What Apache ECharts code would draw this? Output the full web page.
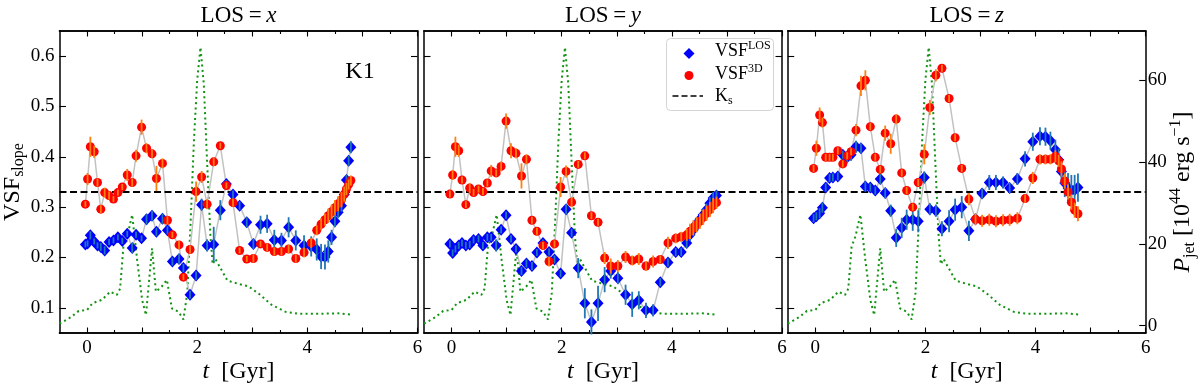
<!DOCTYPE html>
<html>
<head>
<meta charset="utf-8">
<script src="https://cdn.jsdelivr.net/npm/echarts@6/dist/echarts.min.js"></script>
<style>
  html, body { margin: 0; padding: 0; background: #fff; }
  #main { width: 1200px; height: 386px; }
</style>
</head>
<body>
<div id="main"></div>
<script>
// ---- data ----
// K_s reference slope
var KS = 1 / 3;

// jet power (same run in every panel), 10^44 erg/s
var tJet = [-0.5, -0.3, -0.15, 0.0, 0.1, 0.27, 0.42, 0.54, 0.6, 0.66,
  0.73, 0.82, 0.91, 1.0, 1.07, 1.18, 1.25, 1.36, 1.45, 1.54,
  1.66, 1.75, 1.82, 1.88, 1.94, 2.0, 2.06, 2.12, 2.18, 2.24,
  2.28, 2.33, 2.55, 2.75, 2.93, 3.11, 3.35, 3.6, 3.84, 4.2,
  4.56, 4.8];
var pJet = [0.5, 2.0, 3.6, 3.8, 5.5, 6.3, 8.3, 7.5, 9, 19.3,
  21.8, 27.1, 16, 6.3, 2.6, 18.9, 8.3, 9.6, 11.2, 4.2,
  3.4, 1.5, 8, 25, 45, 60, 68, 59, 40, 22,
  15, 16.3, 11, 10.2, 9.6, 7.9, 5.1, 3.4, 2.9, 2.9,
  3, 2.7];

// LOS = x
var t1 = [-0.03, 0.01, 0.06, 0.13, 0.19, 0.25, 0.32, 0.40, 0.48, 0.56,
  0.64, 0.73, 0.82, 0.89, 0.99, 1.08, 1.18, 1.26, 1.37, 1.46,
  1.55, 1.67, 1.75, 1.87, 1.98, 2.08, 2.18, 2.30, 2.42, 2.53,
  2.65, 2.77, 2.90, 3.02, 3.15, 3.27, 3.40, 3.53, 3.66, 3.79,
  3.94, 4.07, 4.17, 4.25, 4.32, 4.38, 4.44, 4.50, 4.56, 4.62,
  4.67, 4.71, 4.75, 4.79];
var los1 = [0.226, 0.228, 0.244, 0.232, 0.224, 0.221, 0.214, 0.231, 0.234, 0.240,
  0.233, 0.247, 0.219, 0.245, 0.238, 0.276, 0.283, 0.251, 0.277, 0.254,
  0.192, 0.197, 0.179, 0.126, 0.164, 0.305, 0.224, 0.226, 0.294, 0.346,
  0.325, 0.303, 0.270, 0.227, 0.265, 0.267, 0.235, 0.234, 0.260, 0.234,
  0.224, 0.222, 0.216, 0.202, 0.201, 0.212, 0.240, 0.272, 0.290, 0.303,
  0.325, 0.354, 0.392, 0.419];
var los1Err = [0.006, 0.006, 0.008, 0.006, 0.006, 0.008, 0.008, 0.006, 0.006, 0.006,
  0.006, 0.006, 0.01, 0.006, 0.006, 0.01, 0.01, 0.008, 0.01, 0.008,
  0.008, 0.01, 0.008, 0.008, 0.008, 0.012, 0.012, 0.035, 0.02, 0.008,
  0.008, 0.008, 0.01, 0.01, 0.018, 0.018, 0.02, 0.015, 0.02, 0.02,
  0.02, 0.02, 0.022, 0.025, 0.025, 0.022, 0.015, 0.012, 0.012, 0.012,
  0.012, 0.01, 0.01, 0.012];
var d31 = [0.306, 0.356, 0.420, 0.410, 0.349, 0.296, 0.329, 0.323, 0.316, 0.329,
  0.340, 0.364, 0.349, 0.402, 0.459, 0.417, 0.406, 0.357, 0.387, 0.274,
  0.245, 0.225, 0.161, 0.216, 0.331, 0.360, 0.306, 0.390, 0.422, 0.343,
  0.309, 0.214, 0.197, 0.198, 0.227, 0.220, 0.212, 0.212, 0.217, 0.198,
  0.210, 0.229, 0.254, 0.266, 0.275, 0.283, 0.291, 0.299, 0.307, 0.315,
  0.326, 0.336, 0.345, 0.353];
var d31Err = [0.006, 0.012, 0.02, 0.012, 0.008, 0.008, 0.01, 0.008, 0.006, 0.006,
  0.006, 0.012, 0.008, 0.012, 0.015, 0.01, 0.008, 0.025, 0.01, 0.008,
  0.006, 0.008, 0.006, 0.008, 0.02, 0.012, 0.01, 0.008, 0.006, 0.006,
  0.008, 0.006, 0.006, 0.008, 0.006, 0.008, 0.008, 0.008, 0.008, 0.008,
  0.01, 0.01, 0.01, 0.012, 0.012, 0.014, 0.014, 0.015, 0.015, 0.015,
  0.015, 0.012, 0.01, 0.01];

// LOS = y
var t2 = [-0.03, 0.02, 0.07, 0.13, 0.19, 0.26, 0.33, 0.40, 0.49, 0.57,
  0.65, 0.72, 0.81, 0.90, 0.99, 1.08, 1.17, 1.27, 1.36, 1.46,
  1.55, 1.66, 1.77, 1.87, 1.98, 2.08, 2.18, 2.30, 2.42, 2.54,
  2.66, 2.78, 2.89, 3.02, 3.16, 3.28, 3.40, 3.53, 3.66, 3.79,
  3.93, 4.07, 4.17, 4.27, 4.33, 4.39, 4.45, 4.51, 4.57, 4.63,
  4.69, 4.75, 4.81];
var los2 = [0.227, 0.209, 0.217, 0.224, 0.229, 0.224, 0.226, 0.235, 0.237, 0.224,
  0.240, 0.240, 0.224, 0.255, 0.284, 0.237, 0.217, 0.173, 0.188, 0.183,
  0.210, 0.229, 0.211, 0.196, 0.168, 0.296, 0.249, 0.179, 0.109, 0.072,
  0.109, 0.156, 0.173, 0.159, 0.126, 0.107, 0.115, 0.095, 0.095, 0.151,
  0.190, 0.211, 0.211, 0.229, 0.245, 0.255, 0.267, 0.276, 0.285, 0.295,
  0.308, 0.318, 0.323];
var los2Err = [0.007, 0.007, 0.007, 0.007, 0.007, 0.007, 0.007, 0.007, 0.007, 0.007,
  0.007, 0.007, 0.012, 0.007, 0.007, 0.007, 0.007, 0.008, 0.008, 0.008,
  0.007, 0.007, 0.007, 0.008, 0.007, 0.01, 0.008, 0.02, 0.03, 0.025,
  0.035, 0.025, 0.015, 0.012, 0.02, 0.025, 0.018, 0.015, 0.012, 0.008,
  0.008, 0.008, 0.008, 0.01, 0.012, 0.012, 0.012, 0.012, 0.012, 0.012,
  0.012, 0.012, 0.01];
var d32 = [0.326, 0.364, 0.420, 0.412, 0.354, 0.305, 0.338, 0.329, 0.336, 0.331,
  0.348, 0.372, 0.368, 0.381, 0.471, 0.412, 0.407, 0.362, 0.395, 0.274,
  0.252, 0.224, 0.192, 0.227, 0.340, 0.371, 0.310, 0.385, 0.402, 0.283,
  0.270, 0.199, 0.183, 0.183, 0.201, 0.194, 0.197, 0.183, 0.192, 0.196,
  0.229, 0.238, 0.241, 0.245, 0.252, 0.259, 0.265, 0.272, 0.280, 0.288,
  0.295, 0.303, 0.309];
var d32Err = [0.007, 0.01, 0.02, 0.012, 0.007, 0.007, 0.01, 0.007, 0.007, 0.007,
  0.007, 0.012, 0.007, 0.01, 0.015, 0.015, 0.01, 0.025, 0.01, 0.007,
  0.007, 0.007, 0.01, 0.007, 0.02, 0.012, 0.01, 0.007, 0.007, 0.007,
  0.007, 0.012, 0.015, 0.012, 0.012, 0.01, 0.012, 0.01, 0.012, 0.008,
  0.012, 0.01, 0.01, 0.012, 0.015, 0.015, 0.015, 0.015, 0.015, 0.015,
  0.015, 0.015, 0.012];

// LOS = z
var t3 = [-0.03, 0.02, 0.08, 0.13, 0.19, 0.26, 0.32, 0.41, 0.50, 0.58,
  0.65, 0.74, 0.83, 0.91, 1.00, 1.09, 1.18, 1.27, 1.37, 1.47,
  1.57, 1.66, 1.77, 1.87, 1.98, 2.08, 2.19, 2.30, 2.43, 2.54,
  2.66, 2.79, 2.91, 3.03, 3.16, 3.28, 3.41, 3.53, 3.67, 3.81,
  3.95, 4.08, 4.18, 4.27, 4.36, 4.42, 4.47, 4.53, 4.59, 4.65,
  4.71, 4.77];
var los3 = [0.278, 0.282, 0.288, 0.299, 0.339, 0.358, 0.359, 0.361, 0.404, 0.399,
  0.404, 0.420, 0.417, 0.341, 0.339, 0.333, 0.356, 0.328, 0.293, 0.239,
  0.259, 0.275, 0.275, 0.272, 0.359, 0.296, 0.293, 0.257, 0.272, 0.295,
  0.300, 0.253, 0.276, 0.327, 0.349, 0.349, 0.349, 0.338, 0.356, 0.396,
  0.430, 0.441, 0.440, 0.432, 0.414, 0.394, 0.371, 0.348, 0.338, 0.334,
  0.334, 0.339];
var los3Err = [0.008, 0.008, 0.01, 0.01, 0.008, 0.008, 0.008, 0.008, 0.008, 0.012,
  0.012, 0.012, 0.01, 0.01, 0.008, 0.008, 0.01, 0.01, 0.012, 0.018,
  0.02, 0.02, 0.022, 0.022, 0.012, 0.012, 0.012, 0.015, 0.022, 0.022,
  0.022, 0.02, 0.01, 0.01, 0.015, 0.015, 0.012, 0.01, 0.012, 0.015,
  0.018, 0.018, 0.018, 0.018, 0.02, 0.022, 0.025, 0.028, 0.03, 0.03,
  0.03, 0.028];
var d33 = [0.377, 0.417, 0.483, 0.468, 0.399, 0.399, 0.399, 0.412, 0.386, 0.402,
  0.410, 0.453, 0.541, 0.552, 0.460, 0.399, 0.375, 0.447, 0.426, 0.475,
  0.368, 0.333, 0.300, 0.349, 0.405, 0.498, 0.562, 0.576, 0.516, 0.438,
  0.377, 0.316, 0.276, 0.273, 0.275, 0.272, 0.274, 0.275, 0.278, 0.317,
  0.358, 0.395, 0.395, 0.395, 0.401, 0.392, 0.376, 0.352, 0.330, 0.310,
  0.294, 0.287];
var d33Err = [0.007, 0.015, 0.015, 0.01, 0.007, 0.007, 0.007, 0.007, 0.007, 0.007,
  0.007, 0.012, 0.02, 0.02, 0.007, 0.007, 0.007, 0.015, 0.02, 0.01,
  0.007, 0.007, 0.007, 0.007, 0.02, 0.015, 0.012, 0.007, 0.007, 0.007,
  0.007, 0.012, 0.012, 0.012, 0.012, 0.012, 0.012, 0.012, 0.012, 0.008,
  0.012, 0.01, 0.01, 0.01, 0.012, 0.012, 0.015, 0.015, 0.015, 0.015,
  0.015, 0.015];

// ticks
var xMajor = [0, 1, 2, 3, 4, 5, 6];
var xMinor = [0.5, 1.5, 2.5, 3.5, 4.5, 5.5];
var xLabels = [0, 2, 4, 6];
var vsfTicks = [0.1, 0.2, 0.3, 0.4, 0.5, 0.6];
var jetTicks = [0, 20, 40, 60];

// ---- chart ----
var FONT = '"Liberation Serif", "DejaVu Serif", serif';
var GRID_TOP = 31, GRID_H = 302, GRID_W = 358;

var panels = [
  {t: t1, los: los1, losErr: los1Err, d3: d31, d3Err: d31Err, left: 59.5, name: 'x'},
  {t: t2, los: los2, losErr: los2Err, d3: d32, d3Err: d32Err, left: 424, name: 'y'},
  {t: t3, los: los3, losErr: los3Err, d3: d33, d3Err: d33Err, left: 787.7, name: 'z'}
];

function pairs(xs, ys) {
  return xs.map(function (x, k) { return [x, ys[k]]; });
}
function triples(xs, ys, es) {
  return xs.map(function (x, k) { return [x, ys[k], es[k]]; });
}

var frame = {color: '#000', width: 1.5};
var tickStyle = {color: '#000', width: 1.1};

function makeX(gi, pos, ticks, len, labels) {
  return {
    type: 'value', gridIndex: gi, position: pos, min: -0.5, max: 6,
    axisLine: {show: true, onZero: false, lineStyle: frame},
    axisTick: {show: true, inside: true, length: len, customValues: ticks, lineStyle: tickStyle},
    axisLabel: {show: labels, customValues: xLabels, margin: 6, color: '#000',
      fontFamily: FONT, fontSize: 19},
    splitLine: {show: false}
  };
}

function makeY(gi, pos, ticks, labels) {
  return {
    type: 'value', gridIndex: gi, position: pos, min: 0.05, max: 0.65,
    axisLine: {show: true, onZero: false, lineStyle: frame},
    axisTick: {show: ticks, inside: true, length: 6.5, customValues: vsfTicks, lineStyle: tickStyle},
    axisLabel: {show: labels, customValues: vsfTicks, margin: 5, color: '#000',
      fontFamily: FONT, fontSize: 19,
      formatter: function (v) { return v.toFixed(1); }},
    splitLine: {show: false}
  };
}

function makeJet(gi, visible) {
  return {
    type: 'value', gridIndex: gi, position: 'right', min: -1.8, max: 72,
    show: visible,
    axisLine: {show: false, onZero: false},
    axisTick: {show: true, inside: true, length: 6.5, customValues: jetTicks, lineStyle: tickStyle},
    axisLabel: {show: true, customValues: jetTicks, margin: 2, color: '#000',
      fontFamily: FONT, fontSize: 19},
    splitLine: {show: false}
  };
}

function errBar(color) {
  return function (params, api) {
    var lo = api.coord([api.value(0), api.value(1) - api.value(2)]);
    var hi = api.coord([api.value(0), api.value(1) + api.value(2)]);
    return {
      type: 'line',
      shape: {x1: lo[0], y1: lo[1], x2: hi[0], y2: hi[1]},
      style: {stroke: color, lineWidth: 1.8}
    };
  };
}

var grid = [], xAxis = [], yAxis = [], series = [], graphic = [];

panels.forEach(function (p, i) {
  grid.push({left: p.left, top: GRID_TOP, width: GRID_W, height: GRID_H,
    containLabel: false, outerBoundsMode: 'none'});

  var xi = xAxis.length;
  xAxis.push(makeX(i, 'bottom', xMajor, 5.5, true));
  xAxis.push(makeX(i, 'top', xMajor, 5.5, false));
  xAxis.push(makeX(i, 'bottom', xMinor, 3, false));
  xAxis.push(makeX(i, 'top', xMinor, 3, false));

  var yi = yAxis.length;
  yAxis.push(makeY(i, 'left', true, i === 0));
  yAxis.push(makeY(i, 'right', i < 2, false));
  yAxis.push(makeJet(i, i === 2));

  // jet power, dotted green
  series.push({
    type: 'line', xAxisIndex: xi, yAxisIndex: yi + 2, data: pairs(tJet, pJet),
    symbol: 'none', silent: true, z: 2,
    lineStyle: {color: '#129212', width: 2, type: [2, 3.3]}
  });
  // grey connecting lines + K_s
  series.push({
    type: 'line', xAxisIndex: xi, yAxisIndex: yi, data: pairs(p.t, p.los),
    symbol: 'none', silent: true, z: 3,
    lineStyle: {color: '#c2c2c2', width: 1.5},
    markLine: {
      silent: true, symbol: ['none', 'none'], label: {show: false},
      lineStyle: {color: '#000', type: [7, 3.5], width: 1.8, opacity: 1},
      data: [{yAxis: KS}]
    }
  });
  series.push({
    type: 'line', xAxisIndex: xi, yAxisIndex: yi, data: pairs(p.t, p.d3),
    symbol: 'none', silent: true, z: 3,
    lineStyle: {color: '#c2c2c2', width: 1.5}
  });
  // VSF LOS
  series.push({
    type: 'scatter', xAxisIndex: xi, yAxisIndex: yi, data: pairs(p.t, p.los),
    symbol: 'diamond', symbolSize: [11, 12], z: 5,
    itemStyle: {color: '#0000ff', opacity: 1}
  });
  series.push({
    type: 'custom', xAxisIndex: xi, yAxisIndex: yi, data: triples(p.t, p.los, p.losErr),
    renderItem: errBar('#1f77b4'), z: 6, silent: true
  });
  // VSF 3D
  series.push({
    type: 'scatter', xAxisIndex: xi, yAxisIndex: yi, data: pairs(p.t, p.d3),
    symbol: 'circle', symbolSize: 9, z: 7,
    itemStyle: {color: '#ff0000', opacity: 1}
  });
  series.push({
    type: 'custom', xAxisIndex: xi, yAxisIndex: yi, data: triples(p.t, p.d3, p.d3Err),
    renderItem: errBar('#ff7f0e'), z: 8, silent: true
  });

  var cx = p.left + GRID_W / 2;
  graphic.push({
    type: 'text', x: cx, y: 16, z: 50,
    style: {
      text: 'LOS\u2009=\u2009{i|' + p.name + '}', fill: '#000', fontFamily: FONT, fontSize: 23,
      align: 'center', verticalAlign: 'middle',
      rich: {i: {fontStyle: 'italic', fontFamily: FONT, fontSize: 23, fill: '#000'}}
    }
  });
  graphic.push({
    type: 'text', x: cx, y: 372, z: 50,
    style: {
      text: '{i|t}\u2002[Gyr]', fill: '#000', fontFamily: FONT, fontSize: 24,
      align: 'center', verticalAlign: 'middle',
      rich: {i: {fontStyle: 'italic', fontFamily: FONT, fontSize: 24, fill: '#000'}}
    }
  });
});

// axis titles, panel label, legend
graphic.push({
  type: 'text', x: 13, y: 182, rotation: Math.PI / 2, z: 50,
  style: {
    text: '{a|VSF}{s|slope}', align: 'center', verticalAlign: 'middle',
    rich: {
      a: {fontFamily: FONT, fontSize: 24, lineHeight: 28, verticalAlign: 'middle', fill: '#000'},
      s: {fontFamily: FONT, fontSize: 16, lineHeight: 15, verticalAlign: 'bottom', fill: '#000'}
    }
  }
});
graphic.push({
  type: 'text', x: 1183, y: 192, rotation: Math.PI / 2, z: 50,
  style: {
    text: '{i|P}{s|jet}{a| [10}{p|44}{a| erg s}{p|\u22121}{a|]}', align: 'center', verticalAlign: 'middle',
    rich: {
      i: {fontFamily: FONT, fontStyle: 'italic', fontSize: 24, lineHeight: 30, verticalAlign: 'middle', fill: '#000'},
      a: {fontFamily: FONT, fontSize: 24, lineHeight: 30, verticalAlign: 'middle', fill: '#000'},
      s: {fontFamily: FONT, fontSize: 16, lineHeight: 15, verticalAlign: 'bottom', fill: '#000'},
      p: {fontFamily: FONT, fontSize: 16, lineHeight: 15, verticalAlign: 'top', fill: '#000'}
    }
  }
});
graphic.push({
  type: 'text', x: 360, y: 72, z: 50,
  style: {text: 'K1', fill: '#000', fontFamily: FONT, fontSize: 24, align: 'center', verticalAlign: 'middle'}
});

var LX = 666.5, LY = 38.5;
graphic.push({
  type: 'rect', z: 60,
  shape: {x: LX, y: LY, width: 107, height: 72, r: 4},
  style: {fill: 'rgba(255,255,255,0.85)', stroke: '#d4d4d4', lineWidth: 1}
});
graphic.push({
  type: 'polygon', z: 61,
  shape: {points: [[689, 48], [694.5, 53.5], [689, 59], [683.5, 53.5]]},
  style: {fill: '#0000ff'}
});
graphic.push({
  type: 'circle', z: 61,
  shape: {cx: 689, cy: 75.5, r: 4.5},
  style: {fill: '#ff0000'}
});
graphic.push({
  type: 'line', z: 61,
  shape: {x1: 672.5, y1: 96, x2: 703, y2: 96},
  style: {stroke: '#000', lineWidth: 1.7, lineDash: [6, 3]}
});
var legendRich = {
  a: {fontFamily: FONT, fontSize: 18, lineHeight: 22, verticalAlign: 'middle', fill: '#000'},
  p: {fontFamily: FONT, fontSize: 12, lineHeight: 12, verticalAlign: 'top', fill: '#000'},
  s: {fontFamily: FONT, fontSize: 12, lineHeight: 12, verticalAlign: 'bottom', fill: '#000'}
};
[['{a|VSF}{p|LOS}', 51], ['{a|VSF}{p|3D}', 74], ['{a|K}{s|s}', 96]].forEach(function (e) {
  graphic.push({
    type: 'text', x: 715, y: e[1], z: 62,
    style: {text: e[0], align: 'left', verticalAlign: 'middle', rich: legendRich}
  });
});

var chart = echarts.init(document.getElementById('main'));
chart.setOption({
  animation: false,
  backgroundColor: '#fff',
  textStyle: {fontFamily: FONT},
  grid: grid,
  xAxis: xAxis,
  yAxis: yAxis,
  series: series,
  graphic: {elements: graphic}
});
</script>
</body>
</html>
